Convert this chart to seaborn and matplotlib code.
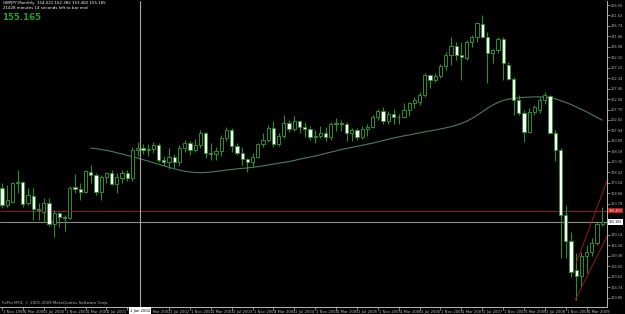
import numpy as np
import pandas as pd
import matplotlib
matplotlib.use("Agg")
import matplotlib.pyplot as plt
import seaborn as sns
from matplotlib.transforms import ScaledTranslation, blended_transform_factory

# ---------------- data ----------------
HEADER = "GBPJPY,Monthly  154.021 162.382 153.482 155.165"
TIMER_TEXT = "21428 minutes 14 seconds left to bar end"
BIG_PRICE = "155.165"
COPYRIGHT = "FxPro MT4, \u00a9 2001-2009 MetaQuotes Software Corp."
BID = 155.165
RED_LEVEL = 160.45
VLINE_POS = 26.4
VLINE_LABEL = "1 Jan 2002"

# monthly candles, Nov 1999 .. Jun 2009 (index 0 = Nov 1999)
OPEN = [171.0, 163.1, 164.5, 173.4, 173.8, 164.0, 167.3, 161.2, 159.8, 164.0,
        154.2, 159.4, 157.5, 157.0, 171.5, 170.6, 169.2, 178.5, 177.1, 169.2,
        176.2, 178.0, 172.9, 175.9, 178.1, 175.7, 188.8, 189.5, 189.0, 189.3,
        191.0, 184.0, 183.0, 185.5, 183.0, 189.5, 192.0, 189.0, 191.0, 196.5,
        187.5, 187.0, 188.5, 194.5, 198.0, 190.5, 187.5, 184.5, 183.0, 185.5,
        191.5, 193.5, 199.0, 191.5, 195.5, 201.5, 198.5, 202.5, 199.5, 198.5,
        195.0, 195.5, 196.5, 195.0, 201.0, 201.5, 201.0, 196.5, 198.0, 195.0,
        198.5, 199.5, 204.0, 207.0, 202.5, 205.5, 204.0, 204.2, 207.5, 210.7,
        211.2, 214.5, 223.8, 221.5, 223.3, 228.0, 233.2, 237.4, 233.2, 231.8,
        239.2, 241.6, 247.6, 241.6, 234.1, 235.5, 240.6, 228.5, 222.0, 212.2,
        206.1, 197.2, 206.5, 207.5, 212.2, 214.0, 196.7, 188.8, 158.4, 146.3,
        132.8, 130.0, 139.3, 141.2, 145.4, 154.021]
HIGH = [173.4, 172.4, 173.8, 179.5, 174.3, 171.0, 171.0, 164.0, 166.4, 166.4,
        160.8, 159.8, 158.4, 171.9, 177.6, 173.4, 179.5, 181.8, 178.0, 177.1,
        178.5, 179.5, 178.0, 179.5, 179.5, 190.2, 192.5, 191.5, 191.5, 192.5,
        192.0, 186.0, 189.5, 187.0, 191.0, 193.5, 193.0, 194.0, 198.0, 197.0,
        192.0, 190.0, 196.0, 199.5, 199.0, 192.0, 190.0, 185.0, 187.5, 192.0,
        196.5, 200.5, 202.5, 196.5, 205.0, 203.0, 204.5, 203.0, 202.0, 200.0,
        198.0, 200.0, 199.5, 202.0, 203.5, 203.0, 202.0, 199.0, 199.0, 200.0,
        201.0, 205.0, 208.0, 209.0, 207.0, 208.0, 205.5, 210.7, 211.2, 213.6,
        215.9, 224.7, 224.0, 224.7, 229.0, 234.6, 241.6, 239.2, 239.2, 240.1,
        242.5, 248.5, 251.8, 243.9, 236.0, 241.6, 241.6, 230.0, 223.0, 214.5,
        207.5, 208.4, 209.8, 213.6, 215.9, 214.5, 198.1, 189.7, 163.1, 150.5,
        140.7, 141.2, 144.4, 147.7, 155.5, 162.382]
LOW = [161.7, 162.2, 164.0, 168.7, 162.2, 163.1, 156.1, 156.1, 155.2, 153.3,
       148.2, 152.8, 151.0, 156.6, 168.7, 165.4, 168.7, 173.4, 167.8, 165.4,
       173.4, 172.4, 168.7, 173.4, 174.5, 174.5, 186.0, 187.0, 186.0, 187.5,
       183.0, 181.5, 180.0, 180.5, 181.5, 188.0, 186.5, 188.0, 189.5, 185.0,
       184.0, 184.0, 186.0, 193.0, 188.0, 186.5, 182.0, 178.5, 181.0, 185.0,
       190.0, 192.5, 190.0, 190.5, 194.5, 197.0, 197.5, 196.5, 195.0, 193.5,
       192.0, 194.5, 193.0, 193.5, 197.5, 197.5, 193.0, 193.0, 193.5, 194.0,
       195.5, 199.0, 203.0, 201.0, 201.0, 201.0, 201.0, 203.7, 204.7, 208.4,
       209.8, 213.6, 217.8, 220.6, 222.5, 226.2, 228.5, 230.8, 221.5, 230.8,
       236.9, 239.2, 241.1, 220.1, 229.4, 234.1, 221.5, 221.5, 205.1, 205.1,
       192.5, 196.7, 205.1, 206.1, 210.3, 196.2, 183.6, 138.4, 138.4, 129.5,
       118.7, 124.8, 131.4, 139.3, 144.5, 153.482]
CLOSE = [163.1, 165.4, 173.4, 173.8, 163.6, 167.8, 161.2, 161.0, 164.0, 154.2,
         159.4, 157.5, 157.2, 171.0, 170.8, 169.2, 179.0, 177.1, 169.2, 176.2,
         178.0, 172.9, 176.2, 178.1, 175.7, 188.8, 189.5, 189.0, 189.3, 191.0,
         184.0, 183.0, 185.5, 183.0, 189.5, 192.0, 189.0, 191.0, 196.5, 187.5,
         187.0, 188.5, 194.5, 198.0, 190.5, 187.5, 184.5, 183.0, 185.5, 191.5,
         193.5, 199.0, 191.5, 195.5, 201.5, 198.5, 202.5, 199.5, 198.5, 195.0,
         195.5, 196.5, 195.0, 201.0, 201.5, 201.0, 196.5, 198.0, 195.0, 198.5,
         199.5, 204.0, 207.0, 202.5, 205.5, 204.0, 204.2, 207.4, 210.7, 212.2,
         214.5, 223.8, 221.5, 223.3, 228.0, 233.2, 237.4, 233.2, 232.2, 239.2,
         241.6, 248.1, 241.6, 234.1, 235.5, 240.6, 229.4, 222.0, 212.2, 206.1,
         197.2, 206.5, 208.9, 212.2, 214.5, 196.7, 188.8, 158.4, 146.3, 131.8,
         130.0, 139.3, 141.2, 145.4, 154.0, 155.165]

# long moving average, starting at month index 17
MA_START = 17
MA = [189.7, 189.4, 189.0, 188.6, 188.1, 187.5, 186.9, 186.3, 185.7, 185.0,
      184.3, 183.6, 182.9, 182.1, 181.4, 180.7, 180.0, 179.4, 178.9, 178.5,
      178.3, 178.2, 178.3, 178.5, 178.8, 179.1, 179.4, 179.7, 180.0, 180.2,
      180.4, 180.7, 181.0, 181.4, 181.8, 182.2, 182.6, 183.0, 183.4, 183.9,
      184.5, 185.0, 185.5, 186.0, 186.6, 187.2, 187.8, 188.4, 189.0, 189.5,
      190.0, 190.5, 191.0, 191.5, 192.0, 192.6, 193.2, 193.8, 194.4, 194.9,
      195.4, 195.8, 196.3, 196.8, 197.3, 197.7, 198.1, 198.6, 199.1, 199.7,
      200.4, 201.2, 202.2, 203.5, 205.0, 206.6, 208.3, 209.7, 211.0, 211.9,
      212.5, 212.9, 213.2, 213.4, 213.5, 213.6, 213.6, 213.5, 213.3, 212.7,
      211.9, 211.0, 210.0, 208.9, 207.8, 206.6, 205.3, 204.0, 202.7]

XTICK_POS = list(range(0, 116, 4))
XTICK_LABELS = ["1 Nov 1999", "1 Mar 2000", "1 Jul 2000", "1 Nov 2000", "1 Mar 2001",
                "1 Jul 2001", "1 Nov 2001", "1 Mar 2002", "1 Jul 2002", "1 Nov 2002",
                "1 Mar 2003", "1 Jul 2003", "1 Nov 2003", "1 Mar 2004", "1 Jul 2004",
                "1 Nov 2004", "1 Mar 2005", "1 Jul 2005", "1 Nov 2005", "1 Mar 2006",
                "1 Jul 2006", "1 Nov 2006", "1 Mar 2007", "1 Jul 2007", "1 Nov 2007",
                "1 Mar 2008", "1 Jul 2008", "1 Nov 2008", "1 Mar 2009"]
PRICE_TICKS = [256.50, 251.62, 246.74, 241.86, 236.98, 232.10, 227.22, 222.34, 217.46,
               212.58, 207.70, 202.82, 197.94, 193.06, 188.18, 183.30, 178.42, 173.54,
               168.66, 163.78, 149.14, 144.26, 139.38, 134.50, 129.62, 124.74, 119.86]
PRICE_LABELS = ["256.50", "251.62", "246.74", "241.86", "236.98", "232.10", "227.22",
                "222.34", "217.46", "212.58", "207.70", "202.82", "197.94", "193.06",
                "188.18", "183.30", "178.42", "173.54", "168.66", "163.78", "149.14",
                "144.26", "139.38", "134.50", "129.62", "124.74", "119.86"]

# two trend lines (rays) drawn on the chart: (index, price) anchor points
UPPER_LINE_X = [110.0, 114.6]
UPPER_LINE_Y = [136.0, 165.9]
LOWER_LINE_X = [109.8, 114.6]
LOWER_LINE_Y = [118.7, 142.1]

# ---------------- styling ----------------
sns.set_style("dark", {"axes.facecolor": "black", "figure.facecolor": "black"})
plt.rcParams["font.family"] = ["DejaVu Sans"]

GREEN = "#2f8f2f"
GREY = "#b8b8b8"

df = pd.DataFrame({"o": OPEN, "h": HIGH, "l": LOW, "c": CLOSE})
df["i"] = np.arange(len(df))
df["bull"] = df["c"] >= df["o"]
df["bottom"] = df[["o", "c"]].min(axis=1)
df["height"] = (df["c"] - df["o"]).abs().clip(lower=0.25)

fig = plt.figure(figsize=(6.25, 3.14), dpi=100, facecolor="black")
ax = fig.add_axes([0.0, 7 / 314, 607 / 625, 306 / 314])
ax.set_facecolor("black")
ax.grid(False)

# moving average (seaborn)
ma_df = pd.DataFrame({"i": np.arange(MA_START, MA_START + len(MA)), "ma": MA})
sns.lineplot(data=ma_df, x="i", y="ma", ax=ax, color="#4b7a66", linewidth=0.8, zorder=1)

# candles
ax.vlines(df["i"], df["l"], df["h"], color=GREEN, linewidth=0.8, zorder=2)
ax.bar(df["i"], df["height"], bottom=df["bottom"], width=0.62,
       color=np.where(df["bull"], "black", "white"), edgecolor=GREEN,
       linewidth=0.7, zorder=3)

ax.set_xlim(-0.383, 115.9)
ax.set_ylim(115.47, 258.37)

# horizontal lines
ax.axhline(RED_LEVEL, color="#8a1c1c", linewidth=0.8, zorder=1.5)
ax.axhline(BID, color="#8c8c8c", linewidth=0.8, zorder=1.5)
ax.axvline(VLINE_POS, color="#a8a8a8", linewidth=0.8, zorder=1.5)

# trend rays extended to the right edge
xr = ax.get_xlim()[1]
for xs, ys in ((UPPER_LINE_X, UPPER_LINE_Y), (LOWER_LINE_X, LOWER_LINE_Y)):
    slope = (ys[1] - ys[0]) / (xs[1] - xs[0])
    ax.plot([xs[0], xr], [ys[0], ys[0] + slope * (xr - xs[0])],
            color="#a01818", linewidth=0.7, zorder=4)

# axes frame
for s in ["left", "top"]:
    ax.spines[s].set_visible(False)
for s in ["right", "bottom"]:
    ax.spines[s].set_visible(True)
    ax.spines[s].set_color(GREY)
    ax.spines[s].set_linewidth(0.7)

# y axis on right
ax.yaxis.tick_right()
ax.set_yticks(PRICE_TICKS)
ax.set_yticklabels(PRICE_LABELS)
ax.tick_params(axis="y", colors=GREY, labelsize=2.5, length=2, width=0.5, pad=0.8,
               labelcolor=GREY, right=True, left=False)
ax.set_ylabel("")

# x axis
ax.set_xticks(XTICK_POS)
ax.set_xticklabels(XTICK_LABELS)
ax.tick_params(axis="x", colors=GREY, labelsize=2.7, length=2.0, width=0.5, pad=0.1,
               labelcolor=GREY, bottom=True)
ax.set_xlabel("")
off = ScaledTranslation(1 / 100, 0, fig.dpi_scale_trans)
for lbl in ax.get_xticklabels():
    lbl.set_horizontalalignment("left")
    lbl.set_transform(lbl.get_transform() + off)

# price boxes on the axis
tr = blended_transform_factory(ax.transAxes, ax.transData)
ax.text(1.003, RED_LEVEL, "160.450", transform=tr, fontsize=2.3, color="white",
        va="center", ha="left", clip_on=False,
        bbox=dict(boxstyle="square,pad=0.2", fc="#c01515", ec="none"))
ax.text(1.003, BID, "155.165", transform=tr, fontsize=2.3, color="black",
        va="center", ha="left", clip_on=False,
        bbox=dict(boxstyle="square,pad=0.2", fc="white", ec="none"))

# vertical line date box
trx = blended_transform_factory(ax.transData, ax.transAxes)
ax.text(VLINE_POS, -0.005, VLINE_LABEL, transform=trx, fontsize=2.7,
        color="black", va="top", ha="center", clip_on=False, zorder=10,
        bbox=dict(boxstyle="square,pad=0.3", fc="white", ec="none"))

# header texts
fig.text(3 / 625, 1 - 3 / 314, HEADER, color="white", fontsize=2.9, va="center", ha="left")
fig.text(3 / 625, 1 - 8 / 314, TIMER_TEXT, color="white", fontsize=2.9, va="center", ha="left")
fig.text(2 / 625, 1 - 18 / 314, BIG_PRICE, color="#27a027", fontsize=6.2,
         fontweight="bold", va="center", ha="left")
fig.text(2 / 625, 1 - 303 / 314, COPYRIGHT, color=GREY, fontsize=2.9, va="center", ha="left")

fig.savefig("out.png", dpi=100, facecolor="black")
